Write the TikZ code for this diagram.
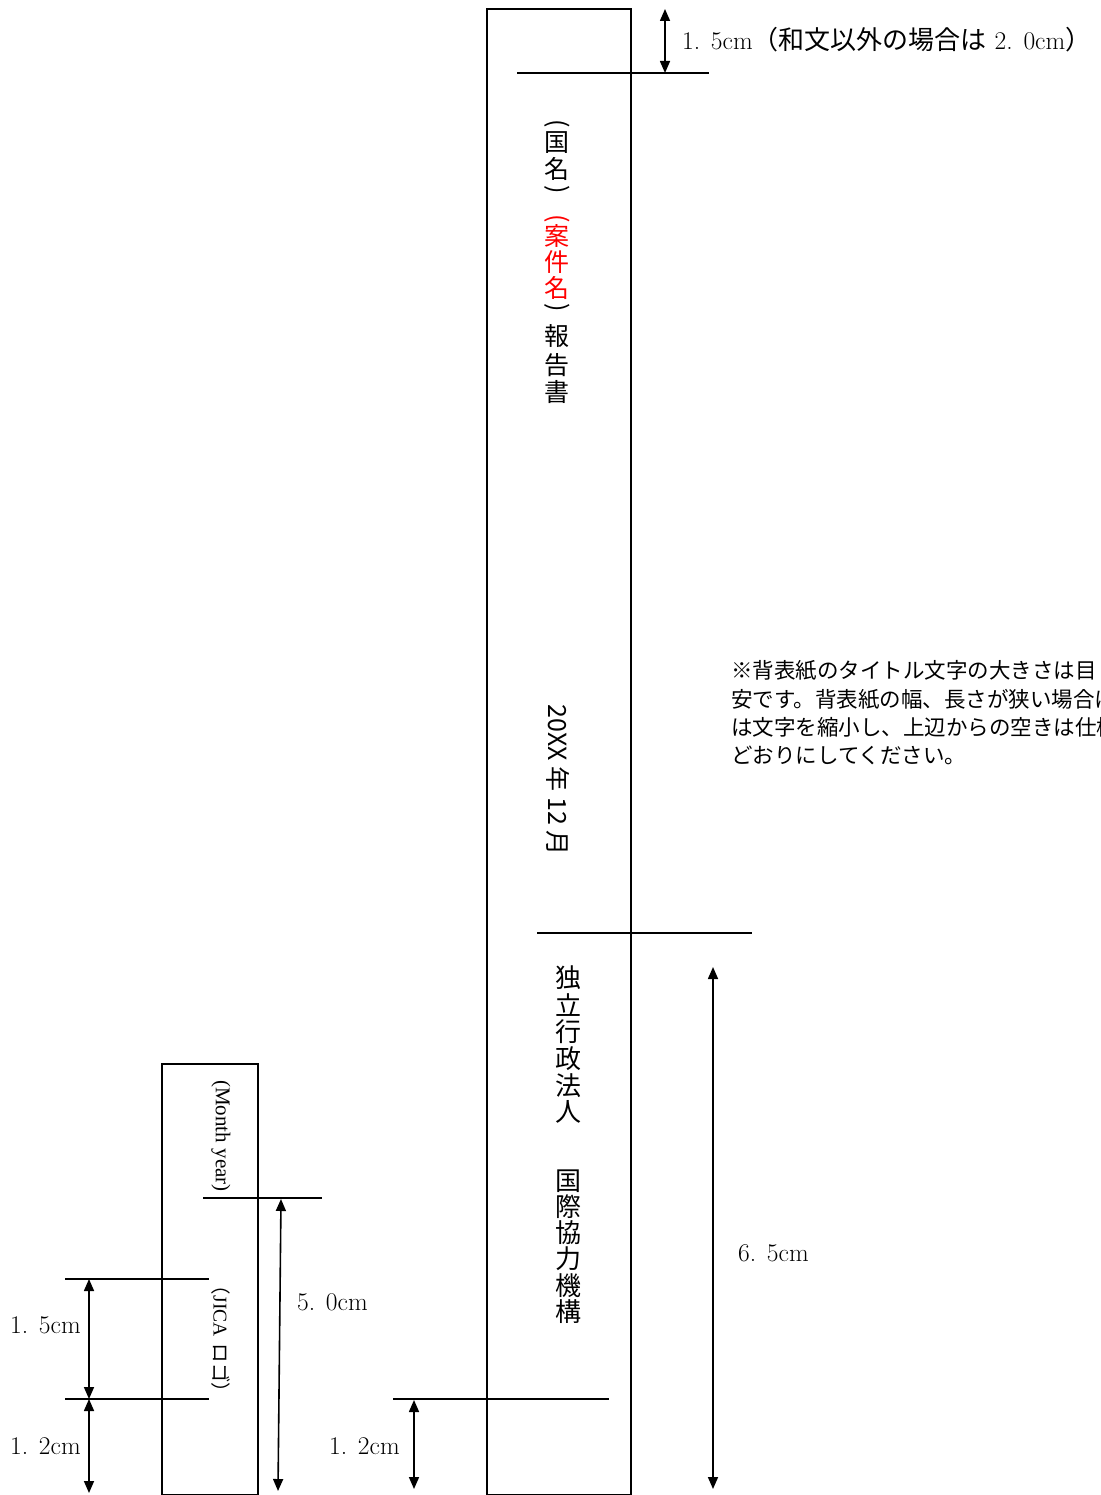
\documentclass[tikz,border=0pt]{standalone}
\usepackage{fontspec}
\usepackage{graphicx}
\newfontfamily\jp{Noto Sans CJK JP}
\newfontfamily\tnr{Liberation Serif}
\usetikzlibrary{arrows.meta}
\newcommand\dimlbl[2]{#1.\kern.42em #2}
\begin{document}
\begin{tikzpicture}[x=1pt,y=-1pt,
  thick line/.style={line width=1.6pt},
  dimarrow/.style={line width=1.6pt,{Triangle[width=10pt,length=12pt]}-{Triangle[width=10pt,length=12pt]}},
  lbl/.style={font=\fontsize{25.5}{25.5}\selectfont, inner sep=0pt, anchor=west},
  vch/.style={font=\jp\fontsize{25}{25}\selectfont, inner sep=0pt},
  vchb/.style={font=\jp\fontsize{26}{26}\selectfont, inner sep=0pt},
  note/.style={font=\jp\fontsize{21.5}{21.5}\selectfont, inner sep=0pt, anchor=west},
  box/.style={draw, line width=1.6pt, inner sep=0pt, anchor=north west}]
\useasboundingbox (0,0) rectangle (1100,1495);

% ---- main spine ----
\node[box, minimum width=144pt, minimum height=1486pt] (spine) at (486,8) {};

% top dimension
\coordinate (t1) at (517,73);
\coordinate (t2) at (709,73);
\draw[thick line] (t1) -- (t2);
\coordinate (ta) at (665,9);
\coordinate (tb) at (665,73);
\draw[dimarrow] (ta) -- (tb);
\node[lbl] (toplbl) at (682,40) {\dimlbl{1}{5cm}{\jp\fontsize{26}{26}\selectfont （和文以外の場合は}\kern8pt\dimlbl{2}{0cm}{\jp\fontsize{26}{26}\selectfont ）}};

% title (vertical)
\foreach \c/\y/\col [count=\i] in {{\rotatebox{-90}{(}}/124/black, 国/143/black, 名/169/black, {\rotatebox{-90}{)}}/190/black,
  {\rotatebox{-90}{(}}/219/red, 案/236/red, 件/262/red, 名/288/red, {\rotatebox{-90}{)}}/308/black,
  報/336/black, 告/365/black, 書/392/black}
  \node[vch, text=\col] (title\i) at (557,\y) {\c};

% date
\node[font=\jp\fontsize{25}{25}\selectfont, inner sep=0pt, rotate=-90] (date) at (558,780) {20XX 年 12 月};

% note
\node[note] (note1) at (731,671) {※背表紙のタイトル文字の大きさは目};
\node[note] (note2) at (731,699) {安です。背表紙の幅、長さが狭い場合に};
\node[note] (note3) at (731,727) {は文字を縮小し、上辺からの空きは仕様};
\node[note] (note4) at (731,755) {どおりにしてください。};

% organisation block
\coordinate (o1) at (537,933);
\coordinate (o2) at (752,933);
\draw[thick line] (o1) -- (o2);
\coordinate (oa) at (713,967);
\coordinate (ob) at (713,1489);
\draw[dimarrow] (oa) -- (ob);
\node[lbl] (lbl65) at (738,1253) {\dimlbl{6}{5cm}};

\foreach \c/\y [count=\i] in {独/978, 立/1005, 行/1032, 政/1059, 法/1086, 人/1112,
  国/1181, 際/1207, 協/1233, 力/1259, 機/1286, 構/1312}
  \node[vchb] (org\i) at (568,\y) {\c};

% bottom dimension of spine
\coordinate (b1) at (393,1399);
\coordinate (b2) at (609,1399);
\draw[thick line] (b1) -- (b2);
\coordinate (ba) at (414,1400);
\coordinate (bb) at (414,1489);
\draw[dimarrow] (ba) -- (bb);
\node[lbl] (lbl12a) at (329,1446) {\dimlbl{1}{2cm}};

% ---- small spine ----
\node[box, minimum width=96pt, minimum height=431pt] (small) at (161,1063) {};
\node[font=\tnr\fontsize{21}{21}\selectfont, inner sep=0pt, rotate=-90] (month) at (221,1136) {(Month year)};
\node[font=\fontsize{19.5}{19.5}\selectfont, inner sep=0pt, rotate=-90] (logo) at (221,1339) {{\jp （}{\tnr JICA}\kern7pt{\jp ロゴ）}};

\coordinate (s1) at (203,1198);
\coordinate (s2) at (322,1198);
\draw[thick line] (s1) -- (s2);
\coordinate (sa) at (281,1199);
\coordinate (sb) at (278,1491);
\draw[dimarrow] (sa) -- (sb);
\node[lbl] (lbl50) at (297,1302) {\dimlbl{5}{0cm}};

\coordinate (l1) at (65,1279);
\coordinate (l2) at (209,1279);
\draw[thick line] (l1) -- (l2);
\coordinate (l3) at (65,1399);
\coordinate (l4) at (209,1399);
\draw[thick line] (l3) -- (l4);
\coordinate (la) at (89,1279);
\coordinate (lb) at (89,1399);
\draw[dimarrow] (la) -- (lb);
\coordinate (lc) at (89,1493);
\draw[dimarrow] (lb) -- (lc);
\node[lbl] (lbl15b) at (10,1325) {\dimlbl{1}{5cm}};
\node[lbl] (lbl12b) at (10,1446) {\dimlbl{1}{2cm}};
\end{tikzpicture}
\end{document}
